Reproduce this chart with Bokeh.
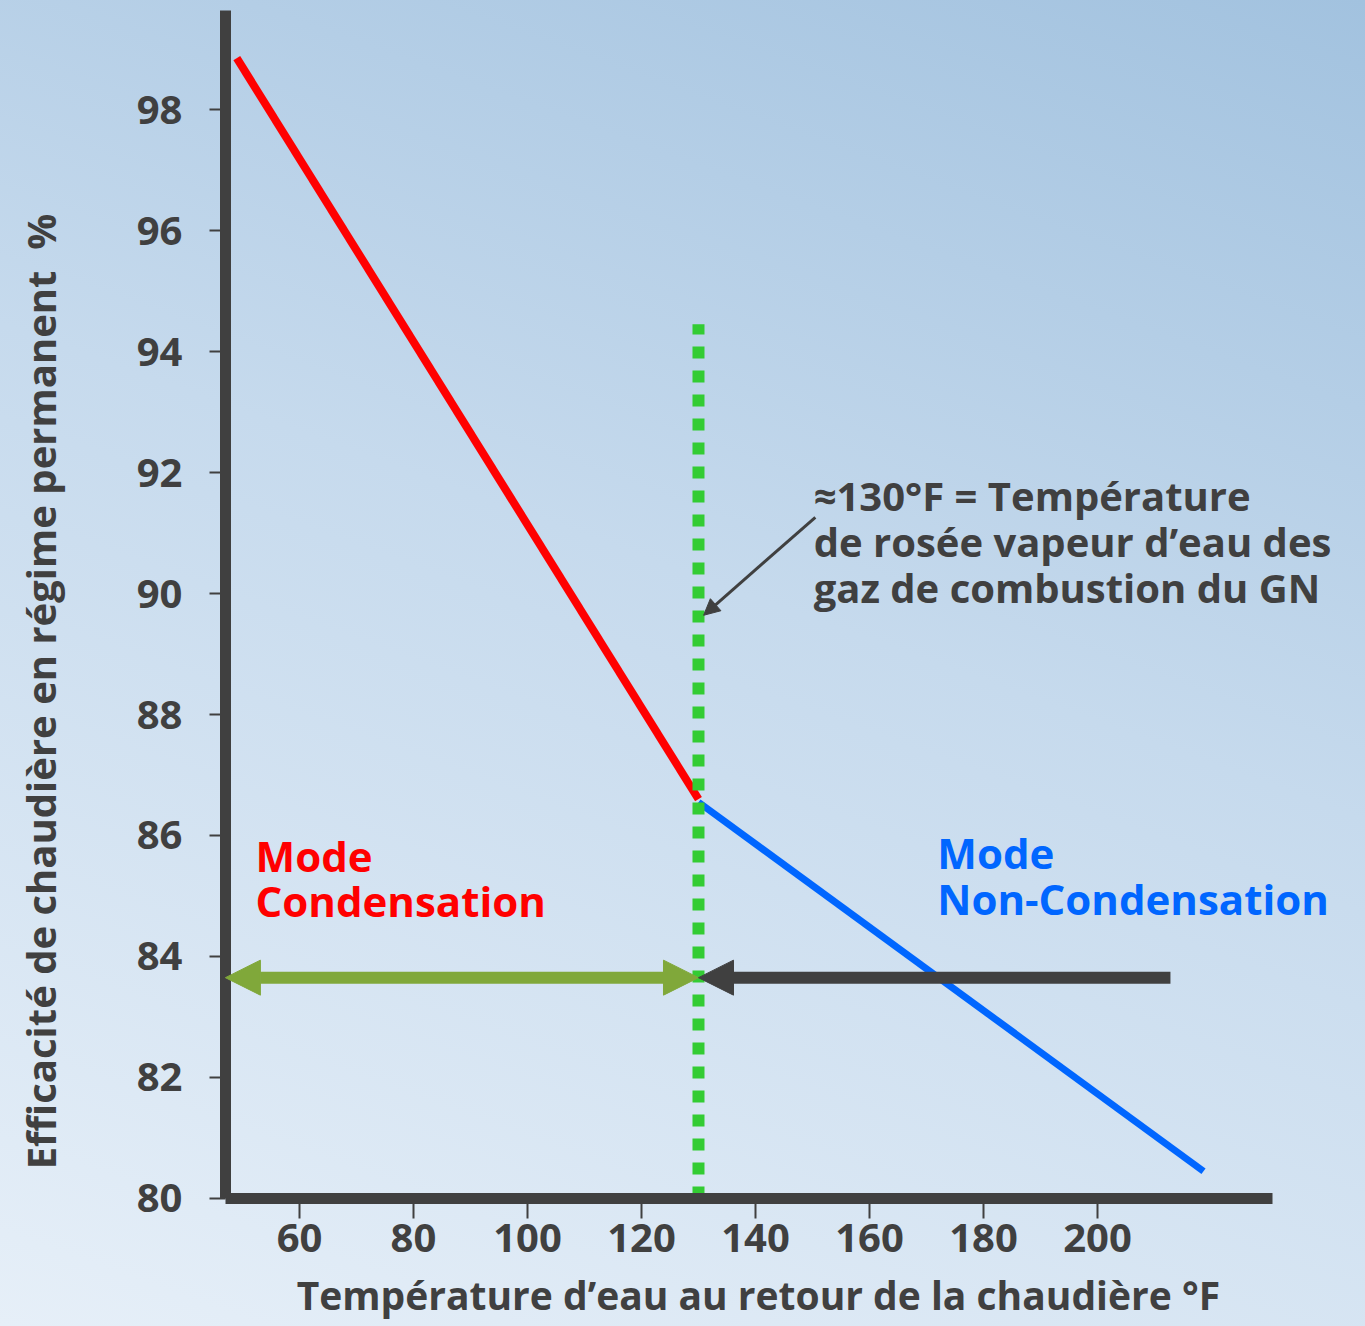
import math
from bokeh.plotting import figure
from bokeh.models import Arrow, NormalHead, Label, FixedTicker, Range1d
from bokeh.embed import file_html
from bokeh.resources import INLINE

# ---- data ----
x_ticks = [60, 80, 100, 120, 140, 160, 180, 200]
y_ticks = [80, 82, 84, 86, 88, 90, 92, 94, 96, 98]
x_axis_span = (47, 230.7)
y_axis_span = (80, 99.64)
cond_x = [49, 130]
cond_y = [98.85, 86.6]
noncond_x = [130, 218.6]
noncond_y = [86.55, 80.45]
dew_x = [130, 130]
dew_y = [80, 94.45]
range_arrow_y = 83.65
cond_arrow_x = [47, 130]
noncond_arrow_x = [212.8, 130]
note_arrow_x = [150.5, 130.9]
note_arrow_y = [91.26, 89.64]
note_lines = ["\u2248130\u00b0F = Temp\u00e9rature", "de ros\u00e9e vapeur d\u2019eau des", "gaz de combustion du GN"]
note_x = 150.2
note_y = [91.62, 90.86, 90.10]
x_title = "Temp\u00e9rature d\u2019eau au retour de la chaudi\u00e8re \u00b0F"
y_title = "Efficacit\u00e9 de chaudi\u00e8re en r\u00e9gime permanent\u00a0\u00a0%"

FONT = "Open Sans"
DARK = "#404040"

p = figure(width=1365, height=1326, output_backend="svg", toolbar_location=None,
           x_range=Range1d(7.544, 247.02), y_range=Range1d(77.884, 99.802),
           min_border=0)
p.styles = {"background": "linear-gradient(200deg, #a2c2df 0%, #c6daed 45%, #e6eff8 100%)"}
p.border_fill_alpha = 0
p.background_fill_alpha = 0
p.outline_line_color = None
p.xgrid.visible = False
p.ygrid.visible = False

for ax in (p.xaxis[0], p.yaxis[0]):
    ax.axis_line_color = DARK
    ax.axis_line_width = 11
    ax.major_tick_line_color = DARK
    ax.major_tick_line_width = 2
    ax.major_tick_in = 0
    ax.minor_tick_line_color = None
    ax.major_label_text_font = FONT
    ax.major_label_text_font_style = "bold"
    ax.major_label_text_font_size = "40px"
    ax.major_label_text_color = DARK

p.xaxis.fixed_location = y_axis_span[0]
p.yaxis.fixed_location = x_axis_span[0]
p.xaxis.bounds = x_axis_span
p.yaxis.bounds = y_axis_span
p.xaxis.ticker = FixedTicker(ticks=x_ticks)
p.yaxis.ticker = FixedTicker(ticks=y_ticks)
p.xaxis.major_tick_out = 20
p.yaxis.major_tick_out = 16
p.xaxis.major_label_standoff = 6
p.yaxis.major_label_standoff = 27

# lines
p.line(cond_x, cond_y, line_color="#ff0000", line_width=8)
p.line(noncond_x, noncond_y, line_color="#0066ff", line_width=7)

# arrows
p.add_layout(Arrow(x_start=cond_arrow_x[0], y_start=range_arrow_y, x_end=cond_arrow_x[1], y_end=range_arrow_y,
                   line_color="#80a83a", line_width=12,
                   start=NormalHead(size=35, fill_color="#80a83a", line_color="#80a83a", line_width=1),
                   end=NormalHead(size=35, fill_color="#80a83a", line_color="#80a83a", line_width=1)))
p.add_layout(Arrow(x_start=noncond_arrow_x[0], y_start=range_arrow_y, x_end=noncond_arrow_x[1], y_end=range_arrow_y,
                   line_color=DARK, line_width=12,
                   end=NormalHead(size=35, fill_color=DARK, line_color=DARK, line_width=1)))

p.line(dew_x, dew_y, line_color="#33cc33", line_width=12, line_dash="12 12")

p.add_layout(Arrow(x_start=note_arrow_x[0], y_start=note_arrow_y[0], x_end=note_arrow_x[1], y_end=note_arrow_y[1],
                   line_color=DARK, line_width=3,
                   end=NormalHead(size=16, fill_color=DARK, line_color=DARK, line_width=1)))

for t, yy in zip(note_lines, note_y):
    p.add_layout(Label(x=note_x, y=yy, text=t, text_font=FONT, text_font_size="40px",
                       text_font_style="bold", text_color=DARK, text_baseline="middle"))

p.add_layout(Label(x=52.3, y=85.67, text="Mode", text_font=FONT, text_font_size="42px",
                   text_font_style="bold", text_color="#ff0000", text_baseline="middle"))
p.add_layout(Label(x=52.3, y=84.93, text="Condensation", text_font=FONT, text_font_size="42px",
                   text_font_style="bold", text_color="#ff0000", text_baseline="middle"))
p.add_layout(Label(x=171.9, y=85.72, text="Mode", text_font=FONT, text_font_size="42px",
                   text_font_style="bold", text_color="#0066ff", text_baseline="middle"))
p.add_layout(Label(x=171.9, y=84.96, text="Non-Condensation", text_font=FONT, text_font_size="42px",
                   text_font_style="bold", text_color="#0066ff", text_baseline="middle"))

p.add_layout(Label(x=140.5, y=78.42, text=x_title, text_font=FONT, text_font_size="39px",
                   text_font_style="bold", text_color=DARK, text_align="center", text_baseline="middle"))
p.add_layout(Label(x=14.5, y=88.38, text=y_title, text_font=FONT, text_font_size="40px",
                   text_font_style="bold", text_color=DARK, text_align="center", text_baseline="middle",
                   angle=math.pi / 2))

open("out.html", "w").write(file_html(p, INLINE))
